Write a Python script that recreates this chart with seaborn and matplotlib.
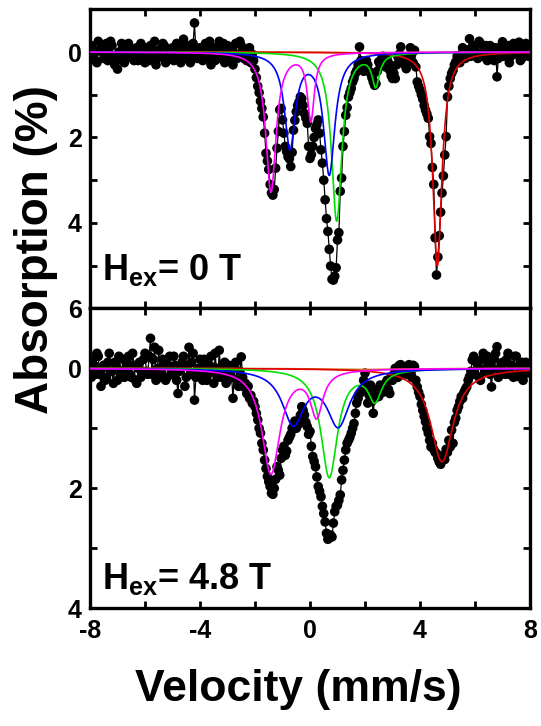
import numpy as np
import pandas as pd
import seaborn as sns
import matplotlib.pyplot as plt
from matplotlib.ticker import MultipleLocator

sns.set_style("ticks")
plt.rcParams['font.family'] = ['Liberation Sans', 'DejaVu Sans']
plt.rcParams['font.weight'] = 'bold'
plt.rcParams['axes.unicode_minus'] = False
plt.rcParams['text.color'] = 'black'
plt.rcParams['axes.edgecolor'] = 'black'
plt.rcParams['xtick.color'] = 'black'
plt.rcParams['ytick.color'] = 'black'
plt.rcParams['mathtext.fontset'] = 'custom'
plt.rcParams['mathtext.rm'] = 'Liberation Sans:bold'
plt.rcParams['mathtext.it'] = 'Liberation Sans:bold'
plt.rcParams['mathtext.bf'] = 'Liberation Sans:bold'

# velocity channels (mm/s): whole steps and the in-between channels
velocity_a = np.round(np.linspace(-8.0, 8.0, 161), 2)
velocity_b = np.round(np.linspace(-7.95, 7.95, 160), 2)

# measured absorption (%), H_ex = 0 T
abs_0T_a = [
    0.10, -0.05, 0.20, -0.25, -0.10, 0.15, -0.20, 0.05, -0.15, 0.30,
    0.40, 0.10, -0.10, 0.15, -0.20, 0.00, 0.20, -0.10, 0.10, -0.05,
    0.25, 0.05, -0.15, 0.10, 0.30, -0.05, 0.10, -0.15, 0.20, 0.05,
    -0.10, 0.15, -0.05, 0.25, -0.30, 0.05, -0.15, 0.10, -0.68, 0.15,
    -0.10, 0.20, -0.20, 0.05, 0.30, -0.10, 0.15, -0.25, 0.05, 0.25,
    -0.15, 0.10, 0.30, -0.20, 0.05, -0.15, 0.15, 0.20, -0.10, 0.05,
    0.40, 0.80, 1.15, 1.52, 2.37, 2.75, 3.30, 3.22, 2.25, 1.35,
    1.59, 2.21, 2.45, 2.68, 1.83, 1.40, 1.17, 1.09, 1.44, 1.67,
    2.49, 2.21, 1.79, 1.59, 2.29, 3.00, 3.90, 4.62, 5.32, 5.25,
    4.40, 3.26, 2.21, 1.48, 1.05, 0.85, 0.62, 0.43, -0.12, 0.35,
    0.27, 0.30, 0.50, 0.70, 0.74, 0.23, 0.16, 0.20, 0.16, 0.43,
    0.62, 0.62, 0.12, -0.12, 0.20, 0.39, 0.10, 0.05, -0.04, 0.70,
    0.89, 1.10, 1.36, 1.55, 2.14, 3.10, 5.22, 4.30, 3.30, 2.41,
    1.05, 0.62, 0.43, 0.23, 0.15, 0.05, -0.04, 0.10, -0.31, 0.05,
    -0.10, 0.15, -0.20, 0.00, -0.15, 0.10, -0.05, 0.20, 0.58, -0.10,
    -0.24, 0.05, -0.15, 0.10, -0.20, 0.00, -0.23, 0.15, -0.10, 0.05,
    0.00,
]
abs_0T_b = [
    -0.15, 0.05, 0.25, -0.05, 0.00, -0.10, 0.20, -0.25, 0.10, 0.20,
    0.00, -0.20, 0.25, 0.05, -0.10, 0.15, -0.05, 0.20, -0.20, 0.10,
    -0.10, 0.20, 0.00, -0.25, 0.15, 0.05, -0.20, 0.25, -0.05, 0.10,
    0.20, -0.20, 0.10, -0.10, 0.15, -0.05, 0.25, -0.20, 0.00, 0.10,
    0.05, -0.10, 0.15, -0.25, 0.10, 0.20, -0.05, 0.15, -0.20, 0.00,
    0.20, -0.10, 0.05, 0.15, -0.25, 0.10, -0.05, 0.00, 0.25, 0.20,
    0.60, 0.95, 1.32, 1.90, 2.55, 3.10, 3.35, 2.72, 1.86, 1.32,
    1.90, 2.33, 2.50, 2.35, 1.60, 1.25, 1.05, 1.25, 1.55, 2.21,
    2.40, 2.00, 1.70, 1.90, 2.60, 3.46, 4.20, 5.01, 5.34, 5.05,
    4.23, 2.95, 1.86, 1.30, 0.95, 0.70, 0.50, 0.30, 0.20, 0.45,
    0.20, 0.45, 0.60, 0.78, 0.45, 0.30, 0.10, 0.35, 0.25, 0.55,
    0.50, 0.30, 0.05, 0.15, 0.30, 0.20, -0.10, 0.25, 0.35, 0.80,
    1.00, 1.25, 1.45, 1.98, 2.70, 4.35, 4.80, 3.75, 2.90, 1.98,
    0.80, 0.50, 0.30, 0.10, 0.25, -0.10, 0.15, -0.05, 0.10, -0.15,
    0.05, -0.25, 0.10, -0.05, 0.20, -0.15, 0.05, -0.10, 0.15, 0.00,
    0.10, -0.10, 0.25, -0.05, 0.05, -0.15, 0.20, 0.00, -0.20, 0.10,
]

# measured absorption (%), H_ex = 4.8 T
abs_48T_a = [
    0.05, -0.15, 0.10, -0.20, 0.30, -0.05, 0.15, -0.25, 0.05, -0.10,
    0.20, 0.10, -0.15, 0.00, -0.20, 0.15, -0.05, 0.25, -0.10, 0.05,
    -0.25, 0.10, -0.50, -0.15, 0.20, -0.30, 0.05, -0.10, 0.15, -0.20,
    0.10, -0.05, 0.42, 0.00, -0.20, 0.15, -0.35, -0.10, 0.53, 0.05,
    -0.15, 0.20, -0.05, 0.10, -0.20, 0.25, 0.00, -0.30, 0.15, -0.10,
    0.20, 0.05, 0.50, -0.10, 0.30, -0.19, 0.31, 0.42, 0.50, 0.58,
    0.64, 0.86, 1.08, 1.36, 1.67, 1.89, 2.08, 2.00, 1.64, 1.78,
    1.36, 1.45, 1.20, 1.10, 0.97, 1.00, 0.92, 0.64, 0.78, 0.97,
    1.05, 1.47, 1.64, 1.97, 2.14, 2.42, 2.75, 2.83, 2.81, 2.39,
    2.28, 2.11, 1.70, 1.36, 1.20, 1.08, 0.92, 0.58, 0.42, 0.36,
    0.08, 0.58, 0.28, 0.75, 0.36, 0.47, 0.36, 0.30, 0.20, 0.42,
    0.20, 0.00, 0.15, -0.06, 0.10, 0.05, -0.06, 0.15, -0.03, 0.31,
    0.47, 0.70, 0.89, 1.08, 1.31, 1.35, 1.42, 1.56, 1.47, 1.52,
    1.40, 1.31, 1.25, 0.83, 0.64, 0.47, 0.40, 0.31, 0.14, -0.14,
    0.10, -0.05, 0.20, -0.25, 0.00, -0.10, 0.31, -0.15, -0.36, 0.05,
    -0.10, 0.10, -0.25, -0.05, 0.15, -0.20, 0.14, -0.10, 0.05, 0.08,
    -0.05,
]
abs_48T_b = [
    0.15, -0.05, -0.25, 0.10, 0.00, 0.20, -0.10, 0.05, 0.25, -0.05,
    -0.20, 0.05, 0.15, -0.10, 0.10, -0.25, 0.20, 0.00, 0.15, -0.15,
    0.05, -0.20, 0.10, -0.35, 0.00, 0.15, -0.15, 0.20, -0.05, 0.10,
    -0.20, 0.20, 0.05, -0.10, 0.30, -0.05, 0.10, -0.25, 0.15, 0.00,
    0.10, -0.15, 0.20, -0.05, 0.05, -0.25, 0.15, 0.05, -0.05, 0.25,
    -0.05, 0.15, 0.00, 0.20, 0.05, 0.15, 0.25, 0.30, 0.45, 0.55,
    0.75, 1.00, 1.25, 1.53, 1.80, 1.97, 2.10, 1.85, 1.70, 1.50,
    1.30, 1.38, 1.15, 1.00, 0.88, 0.95, 0.78, 0.70, 0.90, 1.10,
    1.30, 1.55, 1.81, 2.05, 2.30, 2.56, 2.85, 2.78, 2.58, 2.30,
    2.20, 1.86, 1.53, 1.25, 1.15, 1.00, 0.75, 0.50, 0.40, 0.20,
    0.35, 0.45, 0.55, 0.50, 0.42, 0.28, 0.40, 0.25, 0.35, 0.15,
    0.10, 0.05, -0.05, 0.10, 0.00, 0.10, 0.05, -0.05, 0.20, 0.40,
    0.60, 0.80, 1.00, 1.20, 1.25, 1.40, 1.50, 1.60, 1.45, 1.35,
    1.20, 1.03, 0.90, 0.70, 0.55, 0.50, 0.35, 0.20, 0.05, -0.20,
    -0.10, 0.15, -0.15, 0.05, -0.20, 0.10, 0.00, -0.25, 0.15, -0.05,
    0.05, -0.15, 0.10, -0.05, -0.20, 0.10, -0.05, 0.20, -0.10, 0.00,
]

# fitted Lorentzian sub-spectra: (colour, centres, depths, FWHMs)
fit_0T = [
    ('#d2691e', [2.0], [0.02], [4.0]),
    ('#e00000', [4.63], [5.01], [0.40]),
    ('#00e000', [0.97, 2.39], [3.95, 0.74], [0.46, 0.33]),
    ('#0000ff', [-0.73, 0.70], [2.21, 2.83], [0.48, 0.50]),
    ('#ff00ff', [-1.42, 0.03], [3.27, 1.57], [0.45, 0.30]),
]
fit_48T = [
    ('#d2691e', [2.0], [0.02], [4.0]),
    ('#e00000', [4.80], [1.56], [1.00]),
    ('#00e000', [0.70, 2.36], [1.81, 0.50], [0.73, 0.58]),
    ('#0000ff', [-0.61, 1.03], [0.89, 0.92], [0.97, 1.00]),
    ('#ff00ff', [-1.42, 0.24], [1.75, 0.75], [0.80, 0.55]),
]

field_labels = ['H$_{\\mathrm{ex}}$= 0 T', 'H$_{\\mathrm{ex}}$= 4.8 T']

fig = plt.figure(figsize=(5.41, 7.26), dpi=100)
ax_top = fig.add_axes([90 / 541, 417.7 / 726, 440 / 541, 299 / 726])
ax_bot = fig.add_axes([90 / 541, 117.7 / 726, 440 / 541, 300 / 726])

vgrid = np.linspace(-8, 8, 1601)

panels = [
    (ax_top, abs_0T_a, abs_0T_b, fit_0T, field_labels[0], 6, 0.095),
    (ax_bot, abs_48T_a, abs_48T_b, fit_48T, field_labels[1], 4, 0.064),
]
for ax, data_a, data_b, fits, label, ymax, lab_y in panels:
    df = pd.DataFrame({'v': np.concatenate([velocity_a, velocity_b]),
                       'a': list(data_a) + list(data_b)})
    df = df.sort_values('v')
    sns.lineplot(data=df, x='v', y='a', color='black', lw=0.9, sort=False,
                 estimator=None, ax=ax)
    sns.scatterplot(data=df, x='v', y='a', color='black', s=48,
                    edgecolor='none', ax=ax, zorder=3)
    for col, cen, dep, fw in fits:
        curve = np.zeros_like(vgrid)
        for c, d, w in zip(cen, dep, fw):
            curve += d / (1 + ((vgrid - c) / (w / 2)) ** 2)
        sns.lineplot(x=vgrid, y=curve, color=col, lw=1.2, ax=ax, zorder=4)

    ax.set_xlim(-8, 8)
    ax.set_ylim(ymax, -1)
    ax.xaxis.set_major_locator(MultipleLocator(4))
    ax.xaxis.set_minor_locator(MultipleLocator(2))
    ax.yaxis.set_major_locator(MultipleLocator(2))
    ax.yaxis.set_minor_locator(MultipleLocator(1))
    ax.tick_params(which='both', direction='in', top=True, right=True,
                   width=2, length=5, labelsize=18, pad=6)
    for s in ax.spines.values():
        s.set_linewidth(2.4)
    ax.set_xlabel('')
    ax.set_ylabel('')
    ax.text(0.028, lab_y, label, transform=ax.transAxes, fontsize=26,
            fontweight='bold', va='baseline', ha='left')

ax_top.tick_params(labelbottom=False)
ax_bot.tick_params(axis='x', pad=8)

fig.text(0.551, 0.05, 'Velocity (mm/s)', fontsize=32, fontweight='bold',
         ha='center', va='center')
fig.text(0.067, 0.656, 'Absorption (%)', fontsize=33, fontweight='bold',
         ha='center', va='center', rotation=90)

fig.savefig('out.png', dpi=100)
